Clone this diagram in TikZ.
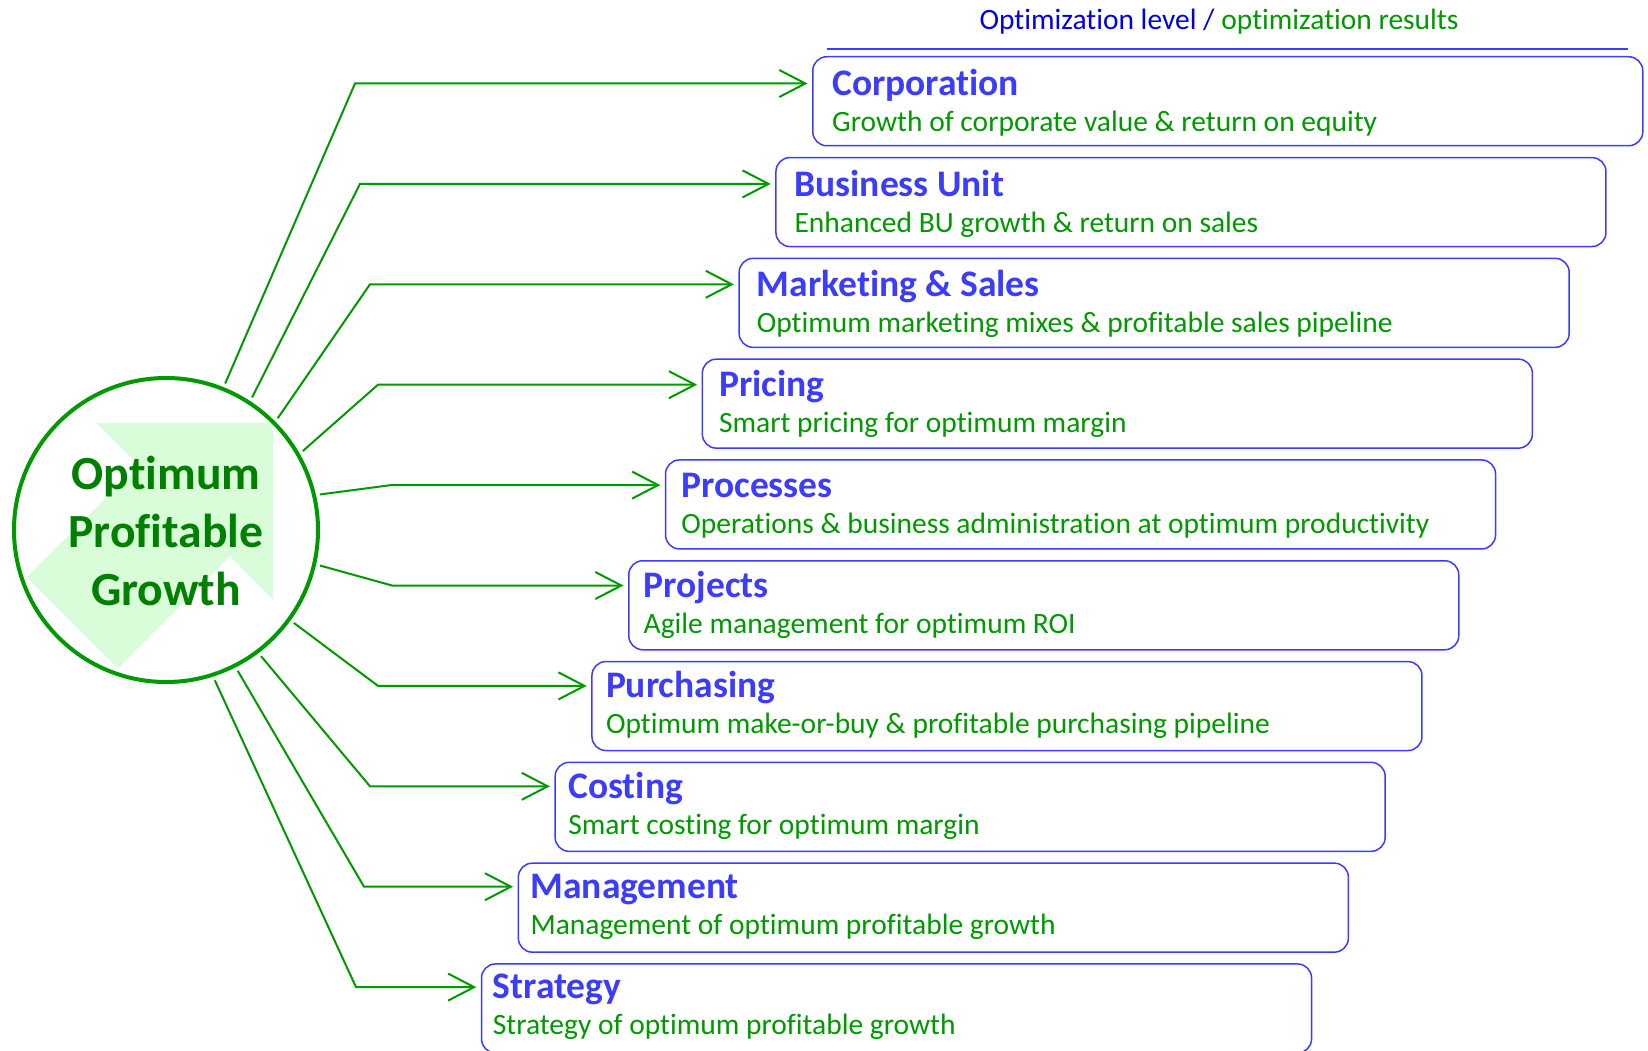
\documentclass[tikz,border=0pt]{standalone}
\usepackage{fontspec}
\setmainfont{Carlito}[Ligatures=NoCommon]
\usetikzlibrary{arrows.meta}

\definecolor{pgreen}{RGB}{0,153,0}
\definecolor{dgreen}{RGB}{0,128,0}
\definecolor{lgreen}{RGB}{217,252,217}
\definecolor{lblue}{RGB}{60,60,255}
\definecolor{hblue}{RGB}{0,0,230}

\tikzset{
  level/.style={draw=lblue, line width=1.5, rounded corners=14, minimum width=830, minimum height=89, anchor=north west, inner sep=0},
  ltitle/.style={anchor=base west, inner sep=0, text=lblue, font=\bfseries\fontsize{37.5}{40}\selectfont},
  lresult/.style={anchor=base west, inner sep=0, text=pgreen, font=\fontsize{29.5}{34}\selectfont},
  link/.style={draw=pgreen, line width=2, -{Straight Barb[length=26,width=27]}, shorten >=4.5}
}

\begin{document}
\begin{tikzpicture}[x=1pt,y=-1pt]
  \useasboundingbox (0,0) rectangle (1648,1051);

  % header
  \node[font=\fontsize{29.5}{34}\selectfont] (head) at (1219,22) {\textcolor{hblue}{Optimization level /} \textcolor{pgreen}{optimization results}};
  \draw[lblue, line width=2] (827,49.5) -- (1628,49.5);

  % growth circle
  \fill[lgreen] (97,423) -- (273,423) -- (273,599) -- (230,556) -- (118,668) -- (27,577) -- (139,465) -- cycle;
  \node[circle, draw=pgreen, line width=4, minimum size=304, inner sep=0, outer sep=6] (pg) at (166,530) {};
  \node[align=center, text=dgreen, font=\bfseries\fontsize{47.6}{58}\selectfont] (txt) at (166,531) {Optimum\\Profitable\\Growth};

  % levels
  \node[level] (b1) at (812,56) {};
  \node[ltitle] (t1) at ([shift={(20,40)}]b1.north west) {Corporation};
  \node[lresult] (r1) at ([shift={(20,76)}]b1.north west) {Growth of corporate value \& return on equity};

  \node[level] (b2) at (775.2,156.8) {};
  \node[ltitle] (t2) at ([shift={(19.1,39.5)}]b2.north west) {Business Unit};
  \node[lresult] (r2) at ([shift={(19.1,75.5)}]b2.north west) {Enhanced BU growth \& return on sales};

  \node[level] (b3) at (738.4,257.6) {};
  \node[ltitle] (t3) at ([shift={(18.2,39)}]b3.north west) {Marketing \& Sales};
  \node[lresult] (r3) at ([shift={(18.2,75)}]b3.north west) {Optimum marketing mixes \& profitable sales pipeline};

  \node[level] (b4) at (701.6,358.4) {};
  \node[ltitle] (t4) at ([shift={(17.3,38.5)}]b4.north west) {Pricing};
  \node[lresult] (r4) at ([shift={(17.3,74.5)}]b4.north west) {Smart pricing for optimum margin};

  \node[level] (b5) at (664.8,459.2) {};
  \node[ltitle] (t5) at ([shift={(16.4,38)}]b5.north west) {Processes};
  \node[lresult] (r5) at ([shift={(16.4,74)}]b5.north west) {Operations \& business administration at optimum productivity};

  \node[level] (b6) at (628,560) {};
  \node[ltitle] (t6) at ([shift={(15.5,37.5)}]b6.north west) {Projects};
  \node[lresult] (r6) at ([shift={(15.5,73.5)}]b6.north west) {Agile management for optimum ROI};

  \node[level] (b7) at (591.2,660.8) {};
  \node[ltitle] (t7) at ([shift={(14.6,37)}]b7.north west) {Purchasing};
  \node[lresult] (r7) at ([shift={(14.6,73)}]b7.north west) {Optimum make-or-buy \& profitable purchasing pipeline};

  \node[level] (b8) at (554.4,761.6) {};
  \node[ltitle] (t8) at ([shift={(13.7,36.5)}]b8.north west) {Costing};
  \node[lresult] (r8) at ([shift={(13.7,72.5)}]b8.north west) {Smart costing for optimum margin};

  \node[level] (b9) at (517.6,862.4) {};
  \node[ltitle] (t9) at ([shift={(12.8,36)}]b9.north west) {Management};
  \node[lresult] (r9) at ([shift={(12.8,72)}]b9.north west) {Management of optimum profitable growth};

  \node[level] (b10) at (480.8,963.2) {};
  \node[ltitle] (t10) at ([shift={(11.9,35.5)}]b10.north west) {Strategy};
  \node[lresult] (r10) at ([shift={(11.9,71.5)}]b10.north west) {Strategy of optimum profitable growth};

  % links
  \draw[link] (pg.68) -- (355,83.5) -- (b1.west |- 355,83.5);
  \draw[link] (pg.57) -- (360,183.9) -- (b2.west |- 360,183.9);
  \draw[link] (pg.45.5) -- (370,284.3) -- (b3.west |- 370,284.3);
  \draw[link] (pg.30.5) -- (378,384.7) -- (b4.west |- 378,384.7);
  \draw[link] (pg.13) -- (391,485.1) -- (b5.west |- 391,485.1);
  \draw[link] (pg.-13) -- (392,585.5) -- (b6.west |- 392,585.5);
  \draw[link] (pg.-36.3) -- (378,685.9) -- (b7.west |- 378,685.9);
  \draw[link] (pg.-53.4) -- (370,786.3) -- (b8.west |- 370,786.3);
  \draw[link] (pg.-63.1) -- (364,886.7) -- (b9.west |- 364,886.7);
  \draw[link] (pg.-72.1) -- (356,987.1) -- (b10.west |- 356,987.1);
\end{tikzpicture}
\end{document}
